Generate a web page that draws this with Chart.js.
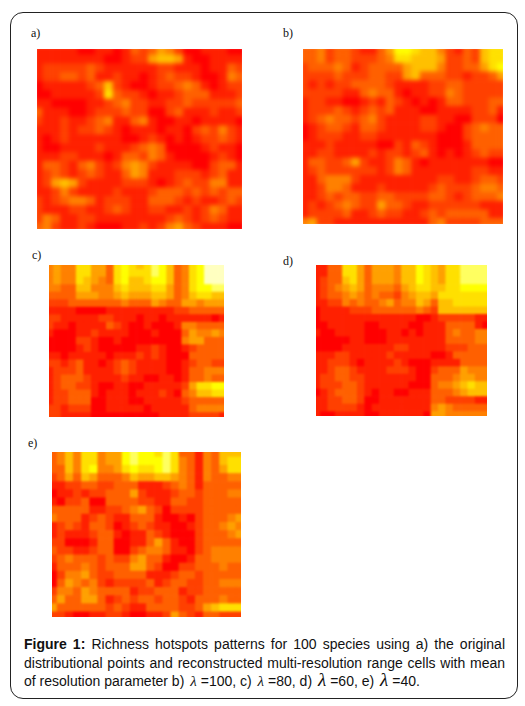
<!DOCTYPE html>
<html lang="en">
<head>
<meta charset="UTF-8">
<title>Richness hotspots</title>
<script src="https://cdn.jsdelivr.net/npm/chart.js@4.4.1/dist/chart.umd.min.js"></script>
<style>
  html, body { margin: 0; padding: 0; background: #fff; }
  body { position: relative; width: 525px; height: 706px; overflow: hidden; }
  #frame { position: absolute; left: 10px; top: 12px; width: 506px; height: 685px; border: 1px solid #222; border-radius: 13px; }
  /* canvases run 3px past the panel, the blur softens the cells and the clip hides its fade */
  canvas { position: absolute; display: block; clip-path: inset(3px); }
  .soft { filter: blur(2px); }
  .tag { position: absolute; font: 12px "Liberation Serif", serif; color: #111; }
  #caption { position: absolute; left: 24px; top: 635px; width: 481px; font: 14px/18.5px "Liberation Sans", sans-serif; color: #111; text-align: justify; }
  #caption i { font-family: "Liberation Serif", serif; font-size: 15px; padding: 0 4px 0 2px; }
  #caption i.big { font-size: 19px; line-height: 10px; }
</style>
</head>
<body>
<div id="frame"></div>
<div class="tag" style="left:31px;top:26px">a)</div>
<div class="tag" style="left:283px;top:26px">b)</div>
<div class="tag" style="left:32px;top:248px">c)</div>
<div class="tag" style="left:283px;top:254px">d)</div>
<div class="tag" style="left:28px;top:436px">e)</div>
<canvas id="panelA" class="soft" style="left:34px;top:46px"></canvas>
<canvas id="panelB" class="soft" style="left:300px;top:46px"></canvas>
<canvas id="panelC" class="soft" style="left:46px;top:262px;filter:blur(1.2px)"></canvas>
<canvas id="panelD" class="soft" style="left:313px;top:262px;filter:blur(1.2px)"></canvas>
<canvas id="panelE" class="soft" style="left:49px;top:449px;filter:blur(1.2px)"></canvas>
<div id="caption"><b>Figure 1:</b> Richness hotspots patterns for 100 species using a) the original distributional points and reconstructed multi-resolution range cells with mean of resolution parameter b) <i>λ</i>=100, c) <i>λ</i>=80, d) <i class="big">λ</i>=60, e) <i class="big">λ</i>=40.</div>
<script>
// richness level per cell, read by eye, top row first
const rowsA = [
  [1,1,1,1,1,0,0,1,1,0,1,3,2,3,5,4,2,0,0,1,1,1,0,0],
  [1,1,1,1,1,1,1,1,0,0,1,2,2,5,6,6,5,1,0,0,1,1,1,1],
  [1,2,2,2,2,2,3,2,1,1,1,1,1,1,2,2,1,1,1,0,1,1,3,2],
  [1,2,2,3,3,2,3,1,1,2,1,1,0,1,2,3,2,2,1,0,0,1,4,3],
  [0,1,1,1,1,1,2,3,6,2,1,0,0,1,2,2,3,4,3,1,0,1,2,2],
  [0,0,1,1,1,1,1,2,7,3,2,2,1,0,1,1,2,3,3,3,1,1,1,2],
  [1,1,0,0,0,0,1,1,2,3,4,2,2,1,1,2,2,3,2,2,2,2,2,3],
  [3,1,1,1,0,0,1,2,2,2,3,2,2,0,0,2,3,1,1,1,2,1,1,2],
  [2,1,1,2,1,1,2,3,4,1,1,3,4,1,0,0,1,1,0,1,1,1,1,0],
  [1,1,1,2,1,2,2,3,2,1,0,1,1,1,0,1,1,0,2,3,2,4,2,1],
  [1,0,1,2,1,1,1,1,1,1,0,0,1,2,1,0,1,0,1,2,2,3,2,1],
  [1,0,0,1,1,1,1,2,1,1,1,2,3,4,3,0,0,0,0,1,2,1,1,0],
  [1,1,1,2,2,1,1,1,0,1,3,3,2,4,3,1,0,0,0,0,1,2,1,0],
  [1,3,3,2,1,3,4,2,1,2,4,5,4,2,1,1,1,1,0,0,2,3,3,1],
  [1,2,3,2,1,2,3,2,1,1,3,5,4,1,1,1,2,2,2,1,2,3,1,1],
  [1,2,5,6,5,2,1,1,1,1,2,2,2,1,0,1,2,3,2,2,4,4,1,1],
  [1,1,2,4,2,1,1,1,1,2,1,1,1,2,3,3,3,2,3,2,3,2,3,3],
  [2,1,2,3,4,4,3,1,2,2,2,1,1,3,3,3,2,1,2,1,1,2,3,2],
  [2,1,1,1,2,2,1,1,2,3,2,1,1,2,2,1,1,2,1,2,4,3,1,1],
  [2,4,3,1,1,2,2,1,1,1,1,1,1,1,1,2,3,2,1,2,3,2,1,1],
  [3,4,2,1,1,2,1,0,0,0,1,1,2,1,2,4,5,3,2,1,1,1,0,0]
];
const rowsB = [
  [3,3,4,2,3,3,2,1,1,3,5,8,8,7,6,6,4,2,1,3,2,6,7,7],
  [3,3,4,2,3,3,2,2,2,3,4,7,7,6,6,6,5,2,2,3,2,6,7,7],
  [2,3,3,3,4,3,1,2,3,3,3,3,5,6,6,6,4,2,2,3,3,5,7,8],
  [2,2,2,2,3,2,2,2,3,3,2,2,5,6,3,3,3,2,2,1,2,2,3,5],
  [2,1,2,1,2,2,3,3,3,3,2,1,1,1,1,2,2,3,3,2,2,2,2,2],
  [2,2,2,2,2,1,1,3,4,3,3,1,0,1,1,2,2,4,3,2,2,2,2,2],
  [1,2,2,1,1,0,0,1,2,1,3,2,1,0,1,0,1,3,3,2,2,2,3,3],
  [1,2,2,2,3,2,1,2,3,2,3,1,1,1,0,0,1,1,1,1,2,2,3,1],
  [1,2,3,4,3,3,2,3,4,2,1,1,1,1,2,2,1,1,0,0,2,2,2,0],
  [0,1,2,3,3,2,1,3,3,2,1,1,1,1,2,2,1,0,0,2,3,4,3,3],
  [0,1,2,2,2,1,1,2,2,1,1,1,1,1,1,1,0,0,0,2,3,3,3,3],
  [1,1,1,2,1,1,1,1,1,0,0,2,1,3,2,1,0,0,0,1,3,3,3,3],
  [1,1,2,2,1,1,1,1,2,1,2,2,1,2,3,1,0,1,0,1,2,3,2,2],
  [1,3,3,2,2,3,5,2,1,1,2,4,3,1,0,1,1,1,1,1,1,1,0,0],
  [1,2,3,2,2,2,2,2,2,1,2,4,3,1,1,1,1,1,1,1,2,2,1,1],
  [1,1,3,4,4,4,2,1,1,1,1,1,1,1,1,1,2,2,1,1,2,3,3,2],
  [1,1,2,4,4,3,1,1,1,2,1,1,1,1,1,2,3,2,2,2,3,4,4,3],
  [1,1,2,3,2,3,3,2,2,3,3,2,2,2,2,3,3,2,1,2,3,3,3,4],
  [1,2,1,2,3,4,3,2,2,5,3,3,2,1,1,2,2,2,2,2,2,1,1,1],
  [1,2,2,2,2,3,1,1,2,3,2,2,1,1,2,3,2,3,3,3,3,3,1,1],
  [4,5,2,2,1,1,1,1,1,1,1,1,1,1,1,3,4,2,2,2,2,3,3,3]
];
const rowsC = [
  [4,5,4,4,7,7,5,5,3,7,8,7,6,7,9,8,6,3,4,7,8,10,10,10],
  [4,5,4,4,7,7,5,5,3,7,8,7,7,7,9,8,6,3,4,7,8,10,10,10],
  [4,5,4,4,7,6,5,4,3,7,8,6,6,7,8,8,6,3,4,7,8,10,10,10],
  [4,4,3,3,6,6,4,4,4,6,7,6,6,6,7,7,5,3,4,7,8,8,9,9],
  [3,3,3,3,5,5,5,4,4,5,6,5,5,5,6,6,5,3,4,6,7,7,6,6],
  [2,2,2,3,3,3,3,3,3,3,4,3,3,3,5,4,3,3,5,5,4,5,5,5],
  [1,1,1,1,0,0,0,0,1,1,1,1,1,1,1,1,1,2,2,3,3,3,3,3],
  [2,2,1,1,1,1,1,2,2,1,1,1,0,1,1,0,1,1,1,1,1,1,0,1],
  [2,1,1,0,1,1,1,1,3,2,1,0,0,1,0,0,0,1,4,4,3,3,3,3],
  [1,0,0,0,1,1,2,1,1,1,1,0,0,0,1,0,0,0,3,5,4,4,5,4],
  [0,0,0,0,2,2,1,0,0,1,0,0,0,0,0,0,0,0,4,5,5,3,3,3],
  [0,0,0,0,1,2,1,0,0,0,0,0,1,1,2,1,0,0,1,2,3,3,3,3],
  [1,1,0,1,1,1,1,1,0,1,1,1,2,1,2,1,0,0,0,3,3,3,3,3],
  [2,2,1,2,3,1,1,0,1,2,3,2,1,1,1,1,0,0,1,2,3,3,2,2],
  [1,2,2,2,3,1,1,1,1,2,3,2,1,1,1,1,0,0,1,3,3,4,4,4],
  [1,2,3,3,3,2,1,1,1,1,2,1,1,0,0,1,1,0,1,3,3,4,3,3],
  [1,2,3,3,2,2,1,0,0,1,1,0,0,1,1,1,1,1,2,5,7,7,8,8],
  [1,2,2,3,3,3,1,0,1,1,1,0,1,1,1,2,1,0,3,4,6,6,7,7],
  [1,2,2,3,3,3,0,0,1,1,1,0,0,1,1,1,1,1,2,3,3,3,3,3],
  [2,2,1,2,2,2,0,0,1,1,1,1,1,0,1,1,1,1,1,3,4,4,4,4],
  [2,2,1,1,1,1,0,0,0,0,0,0,0,0,0,1,1,1,1,2,2,2,2,1]
];
const rowsD = [
  [1,1,3,3,7,7,5,3,5,5,5,4,6,6,8,7,6,5,7,7,9,9,9,9],
  [1,1,3,3,7,7,5,3,5,5,5,4,6,6,8,7,6,5,7,7,9,9,9,9],
  [1,2,3,3,6,7,5,3,5,5,5,4,6,6,8,7,6,5,7,7,9,9,9,9],
  [1,2,3,4,5,6,5,3,4,4,4,3,5,6,7,7,6,6,7,7,8,8,8,8],
  [1,2,3,3,4,5,4,3,4,3,3,2,4,5,6,6,5,7,7,7,7,7,7,7],
  [1,1,2,2,4,3,4,3,3,4,5,3,4,4,6,5,3,6,6,7,7,7,7,7],
  [0,1,1,1,1,2,2,2,3,3,3,3,3,3,4,3,2,6,6,6,6,6,6,6],
  [0,1,1,1,1,1,1,1,1,1,1,1,1,1,0,0,1,2,2,2,2,2,1,1],
  [0,0,1,1,1,1,1,0,0,1,1,1,1,0,0,1,1,1,3,3,3,3,1,0],
  [1,0,0,1,1,1,1,0,0,0,1,1,0,1,0,1,1,1,3,4,3,3,4,4],
  [0,0,0,0,0,1,1,0,0,0,1,1,1,1,1,1,1,1,3,3,3,3,4,4],
  [0,0,0,0,1,1,1,1,1,1,1,2,2,1,1,1,1,1,2,2,2,3,3,3],
  [1,1,1,2,2,1,1,1,1,1,2,1,1,1,1,1,0,0,1,3,3,3,3,3],
  [1,1,2,2,2,1,0,1,1,1,1,2,1,0,0,0,1,1,1,1,3,3,3,3],
  [1,1,2,3,3,2,1,1,1,1,2,2,2,1,0,0,2,3,3,3,5,4,4,4],
  [1,2,2,3,3,2,2,1,1,1,1,1,1,1,0,0,3,3,3,4,5,5,4,4],
  [1,2,2,2,3,3,2,1,1,1,1,1,1,0,0,0,3,4,4,5,6,7,6,6],
  [0,1,2,3,3,3,2,1,0,1,1,0,0,1,1,1,3,3,3,4,5,6,6,6],
  [1,1,2,2,3,3,2,0,0,1,1,1,1,1,1,1,3,3,2,2,2,2,1,1],
  [1,1,2,2,2,2,1,0,1,1,1,1,1,1,1,1,4,5,4,3,3,3,3,3],
  [1,0,0,1,1,1,1,0,0,1,1,1,1,1,1,0,5,5,4,4,4,4,4,4]
];
const rowsE = [
  [3,4,6,4,7,7,4,5,5,8,9,8,8,7,9,7,3,3,1,4,3,6,6,6],
  [3,4,6,4,7,7,4,5,5,8,9,8,8,8,9,7,4,3,1,4,3,6,7,7],
  [3,3,6,4,7,8,4,4,5,7,8,7,7,8,9,7,4,3,1,4,3,5,7,7],
  [2,3,5,3,6,5,3,3,3,4,6,5,5,6,6,5,4,3,1,4,3,3,4,4],
  [1,1,2,2,3,3,2,2,3,3,3,1,1,1,2,3,4,3,1,3,3,3,3,3],
  [0,1,1,2,1,2,2,3,3,3,5,2,1,1,1,2,3,3,2,3,3,3,4,4],
  [1,0,2,2,3,0,0,3,3,3,3,2,2,1,1,3,3,2,2,3,3,3,3,3],
  [3,3,3,3,3,1,1,2,2,3,4,5,3,2,0,2,2,2,2,3,3,3,3,3],
  [4,3,3,3,1,2,3,2,1,1,3,3,3,1,0,0,1,0,2,3,3,3,4,5],
  [1,2,3,2,1,3,3,2,0,1,2,3,2,1,1,0,0,1,2,3,3,4,5,4],
  [1,2,1,1,1,2,3,3,1,0,1,1,3,2,1,0,0,0,2,3,3,3,4,5],
  [2,2,0,0,0,1,3,3,0,0,1,1,3,5,3,1,0,0,2,3,3,3,3,3],
  [3,2,2,1,1,2,3,3,0,0,2,3,4,4,3,1,1,0,2,3,4,4,4,4],
  [2,3,4,3,3,3,2,3,2,2,4,5,3,3,1,0,0,1,3,3,4,4,4,4],
  [1,3,3,3,4,3,2,3,3,3,5,5,3,2,0,0,2,2,3,3,3,4,3,3],
  [0,2,4,4,5,3,2,2,3,3,3,3,1,1,1,2,3,3,2,3,3,3,3,3],
  [0,3,5,4,3,4,2,1,2,2,2,2,3,1,2,3,3,2,2,3,3,4,4,4],
  [2,4,4,3,5,4,3,3,3,3,1,2,2,3,3,3,1,2,2,3,3,3,3,3],
  [3,5,3,3,5,5,3,1,2,3,2,3,3,2,3,3,2,1,3,3,3,4,3,3],
  [5,3,3,3,3,3,3,2,3,2,1,1,3,3,3,3,2,2,3,5,6,7,7,7],
  [2,2,1,0,0,1,1,2,2,1,0,0,1,1,2,5,3,2,1,3,3,2,2,2]
];

// red -> orange -> yellow -> pale, one colour per level
const heatColors = ["#ff0000", "#ff2000", "#ff4000", "#ff6000", "#ff8000", "#ffa000", "#ffc000", "#ffe000", "#ffff00", "#ffff60", "#ffffc0"];

// each row is one stacked dataset of unit-height bars, bottom row first
function drawHeatmap(id, rows, width, height) {
  const canvas = document.getElementById(id);
  canvas.width = width + 6;
  canvas.height = height + 6;
  const datasets = rows.slice().reverse().map(row => ({
    data: row.map(() => 1),
    backgroundColor: row.map(v => heatColors[v]),
    borderWidth: 0,
    barPercentage: 1,
    categoryPercentage: 1,
  }));
  new Chart(canvas, {
    type: "bar",
    data: { labels: rows[0].map((_, i) => i), datasets },
    options: {
      responsive: false,
      animation: false,
      layout: { padding: 0 },
      plugins: { legend: { display: false }, tooltip: { enabled: false } },
      scales: {
        x: { stacked: true, display: false },
        y: { stacked: true, display: false, min: 0, max: rows.length },
      },
    },
  });
}

drawHeatmap("panelA", rowsA, 205, 180);
drawHeatmap("panelB", rowsB, 200, 175);
drawHeatmap("panelC", rowsC, 175, 152);
drawHeatmap("panelD", rowsD, 171, 151);
drawHeatmap("panelE", rowsE, 189, 165);
</script>
</body>
</html>
